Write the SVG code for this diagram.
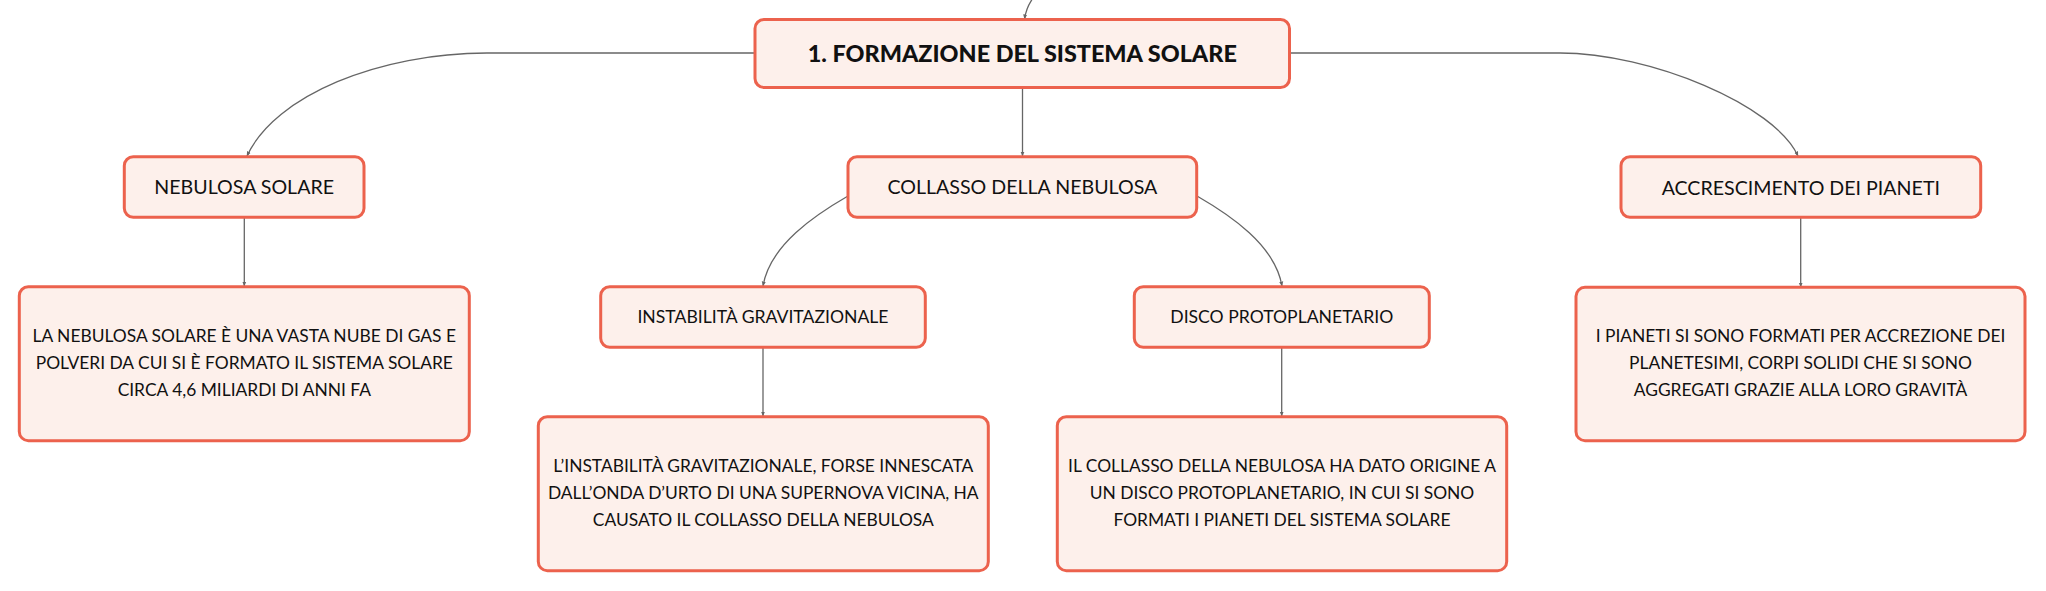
<svg xmlns="http://www.w3.org/2000/svg" width="2046" height="591" viewBox="0 0 2046 591">
<defs>
<style>
.box{fill:#fdf0eb;stroke:#ec624d;stroke-width:3}
.t{font-family:Lato,"Noto Sans",sans-serif;fill:#111;text-anchor:middle}
.lbl{font-size:19.6px}
.lbl3{font-size:17.6px}
.desc{font-size:17.4px}
.root{font-size:23.4px;font-weight:900}
.c{fill:none;stroke:#666;stroke-width:1.3}
</style>
<marker id="ah" viewBox="0 0 10 10" refX="9" refY="5" markerWidth="5" markerHeight="5" orient="auto" markerUnits="userSpaceOnUse">
<path d="M0,1 L10,5 L0,9 z" fill="#666"/>
</marker>
</defs>
<rect width="2046" height="591" fill="#fff"/>
<g id="connectors">
<path class="c" d="M1033,-2 Q1026,8 1024.6,19" marker-end="url(#ah)"/>
<path class="c" d="M755,53 L487,53 C380,53 275,95 247,156" marker-end="url(#ah)"/>
<path class="c" d="M1290,53 L1560,53 C1650,53 1775,105 1798,156" marker-end="url(#ah)"/>
<path class="c" d="M1022.5,87 L1022.5,156" marker-end="url(#ah)"/>
<path class="c" d="M848,196 C815,215 770,245 763,286" marker-end="url(#ah)"/>
<path class="c" d="M1197,196 C1230,215 1275,245 1282,286" marker-end="url(#ah)"/>
<path class="c" d="M244.3,217 L244.3,286" marker-end="url(#ah)"/>
<path class="c" d="M763,347 L763,416" marker-end="url(#ah)"/>
<path class="c" d="M1281.7,347 L1281.7,416" marker-end="url(#ah)"/>
<path class="c" d="M1800.7,217 L1800.7,287" marker-end="url(#ah)"/>
</g>
<g id="root">
<rect class="box" x="755" y="19.5" width="534.5" height="68" rx="9"/>
<text class="t root" x="1022.3" y="61.7">1. FORMAZIONE DEL SISTEMA SOLARE</text>
</g>
<g id="nebulosa">
<rect class="box" x="124.3" y="156.7" width="239.7" height="60.6" rx="9"/>
<text class="t lbl" x="244.2" y="194">NEBULOSA SOLARE</text>
</g>
<g id="nebulosa-desc">
<rect class="box" x="19.3" y="286.7" width="450" height="154" rx="9"/>
<text class="t desc" x="244.3" y="341.7">LA NEBULOSA SOLARE È UNA VASTA NUBE DI GAS E</text>
<text class="t desc" x="244.3" y="368.7">POLVERI DA CUI SI È FORMATO IL SISTEMA SOLARE</text>
<text class="t desc" x="244.3" y="395.7">CIRCA 4,6 MILIARDI DI ANNI FA</text>
</g>
<g id="collasso">
<rect class="box" x="848" y="156.7" width="348.7" height="60.6" rx="9"/>
<text class="t lbl" x="1022.4" y="193.5">COLLASSO DELLA NEBULOSA</text>
</g>
<g id="instabilita">
<rect class="box" x="600.7" y="286.7" width="324.6" height="60.6" rx="9"/>
<text class="t lbl3" x="763" y="323.3">INSTABILITÀ GRAVITAZIONALE</text>
</g>
<g id="instabilita-desc">
<rect class="box" x="538.3" y="416.7" width="450" height="154" rx="9"/>
<text class="t desc" x="763.3" y="471.7">L’INSTABILITÀ GRAVITAZIONALE, FORSE INNESCATA</text>
<text class="t desc" x="763.3" y="498.7">DALL’ONDA D’URTO DI UNA SUPERNOVA VICINA, HA</text>
<text class="t desc" x="763.3" y="525.7">CAUSATO IL COLLASSO DELLA NEBULOSA</text>
</g>
<g id="disco">
<rect class="box" x="1134.3" y="286.7" width="295" height="60.6" rx="9"/>
<text class="t lbl3" x="1281.8" y="323.3">DISCO PROTOPLANETARIO</text>
</g>
<g id="disco-desc">
<rect class="box" x="1057.3" y="416.7" width="449.4" height="154" rx="9"/>
<text class="t desc" x="1282" y="471.7">IL COLLASSO DELLA NEBULOSA HA DATO ORIGINE A</text>
<text class="t desc" x="1282" y="498.7">UN DISCO PROTOPLANETARIO, IN CUI SI SONO</text>
<text class="t desc" x="1282" y="525.7">FORMATI I PIANETI DEL SISTEMA SOLARE</text>
</g>
<g id="accrescimento">
<rect class="box" x="1621" y="156.7" width="359.7" height="60.6" rx="9"/>
<text class="t lbl" x="1800.8" y="194.5">ACCRESCIMENTO DEI PIANETI</text>
</g>
<g id="accrescimento-desc">
<rect class="box" x="1576" y="287.3" width="449" height="153.4" rx="9"/>
<text class="t desc" x="1800.5" y="341.7">I PIANETI SI SONO FORMATI PER ACCREZIONE DEI</text>
<text class="t desc" x="1800.5" y="368.7">PLANETESIMI, CORPI SOLIDI CHE SI SONO</text>
<text class="t desc" x="1800.5" y="395.5">AGGREGATI GRAZIE ALLA LORO GRAVITÀ</text>
</g>
</svg>
